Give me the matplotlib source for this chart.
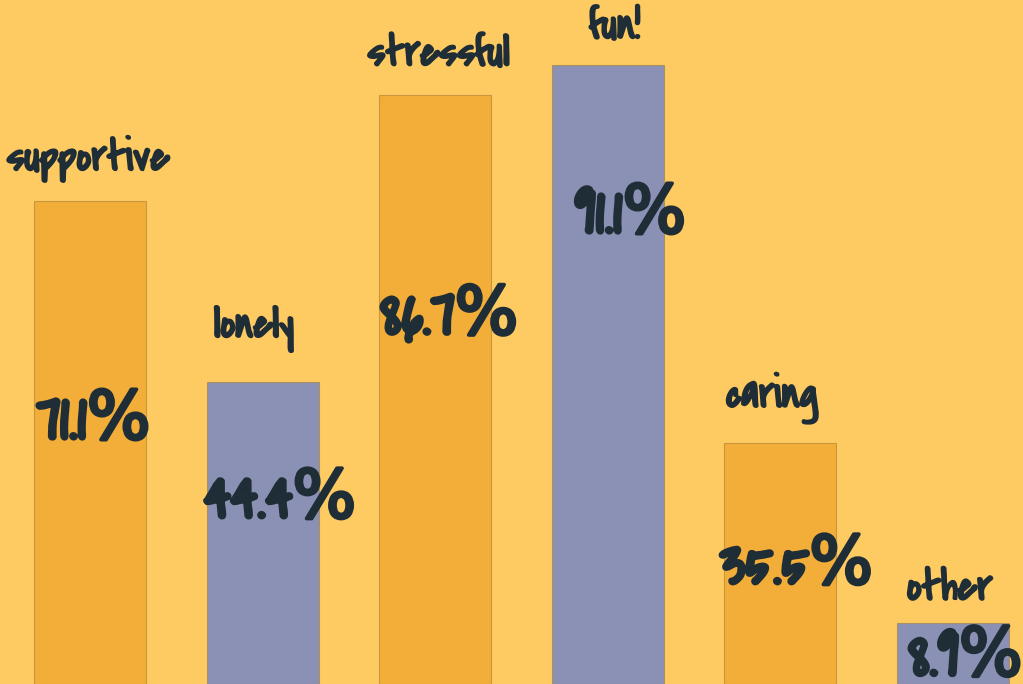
import matplotlib
matplotlib.use("Agg")
import matplotlib.pyplot as plt
import matplotlib.patheffects as pe

# Survey answers and the share of respondents who picked each one (%)
categories = ["supportive", "lonely", "stressful", "fun!", "caring", "other"]
shares = [71.1, 44.4, 86.7, 91.1, 35.5, 8.9]

# Bar colours alternate between two palette tones
bar_colors = ["#F2AE38", "#8B91B4", "#F2AE38", "#8B91B4", "#F2AE38", "#8B91B4"]

# Label placement (data units): category name anchor and value anchor
name_pos = [(-0.01, 77.2), (-0.05, 52.2), (0.02, 92.4), (0.04, 96.4), (-0.05, 42.0), (-0.02, 13.8)]
value_pos = [(0.02, 38.2), (0.10, 26.6), (0.08, 53.6), (0.13, 68.5), (0.09, 16.9), (0.07, 3.4)]

BG = "#FECB62"
INK = "#1F2D36"
FONT = ["Covered By Your Grace", "DejaVu Sans"]

fig = plt.figure(figsize=(10.23, 6.84), dpi=100, facecolor=BG)
ax = fig.add_axes([0, 0, 1, 1])
ax.set_facecolor(BG)

width = 0.649
xs = list(range(len(categories)))
ax.bar(xs, shares, width=width, color=bar_colors,
       edgecolor=(0.55, 0.42, 0.2, 0.45), linewidth=0.8)

ax.set_xlim(-0.521, 5.405)
ax.set_ylim(0, 100.6)
ax.axis("off")

thick_small = [pe.withStroke(linewidth=1.6, foreground=INK)]
thick_big = [pe.withStroke(linewidth=2.6, foreground=INK)]

for i, (name, val) in enumerate(zip(categories, shares)):
    nx, ny = name_pos[i]
    vx, vy = value_pos[i]
    ax.text(i + nx, ny, name, ha="center", va="center", fontsize=32,
            color=INK, family=FONT, path_effects=thick_small)
    ax.text(i + vx, vy, f"{val}%", ha="center", va="center", fontsize=48,
            color=INK, family=FONT, path_effects=thick_big)

fig.savefig("out.png", dpi=100, facecolor=BG)
